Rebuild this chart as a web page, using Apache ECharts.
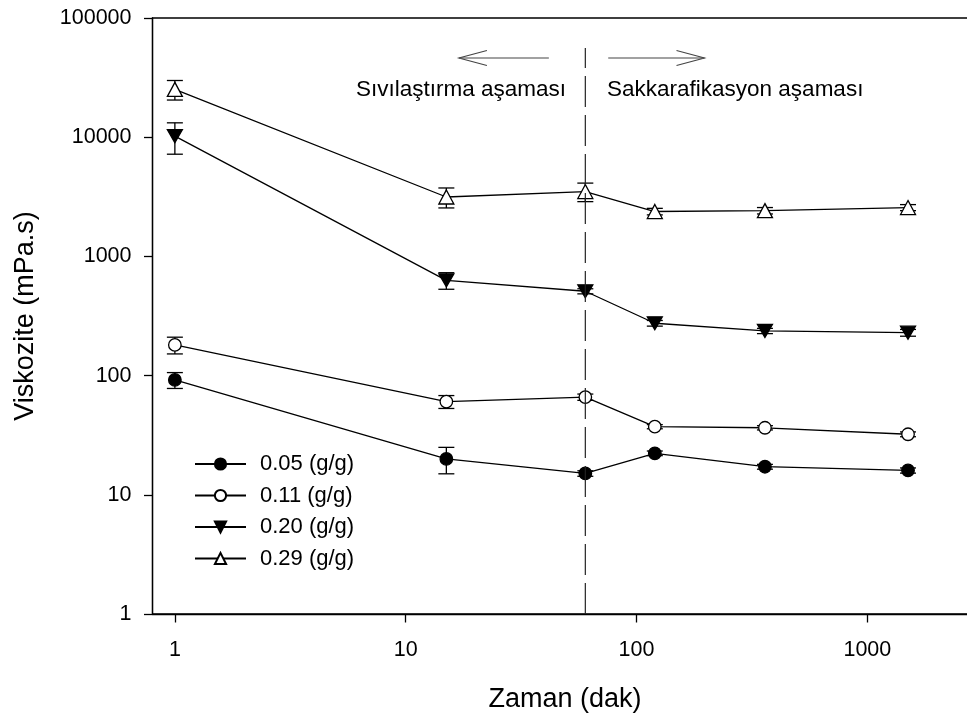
<!DOCTYPE html>
<html><head><meta charset="utf-8">
<script src="https://cdn.jsdelivr.net/npm/echarts@6/dist/echarts.min.js"></script>
<style>html,body{margin:0;padding:0;background:#fff}#c{width:967px;height:719px}</style>
</head><body><div id="c"></div><script>
// ---- data ----
const times = [1, 15, 60, 120, 360, 1500];
const seriesNames = ['0.05 (g/g)', '0.11 (g/g)', '0.20 (g/g)', '0.29 (g/g)'];
const v005 = [92, 20, 15.1, 22.3, 17.2, 16.0];
const e005 = [14, 5, 0.8, 1, 0.8, 0.8];
const v011 = [181, 60.5, 66, 37.3, 36.5, 32.2];
const e011 = [29, 7.5, 4, 1.5, 1.5, 1.5];
const v020 = [10200, 630, 510, 275, 237, 229];
const e020 = [3000, 100, 25, 15, 12, 15];
const v029 = [25200, 3150, 3500, 2380, 2420, 2570];
const e029 = [4700, 600, 620, 150, 150, 150];
const xTicks = [1, 10, 100, 1000];
const yTicks = [1, 10, 100, 1000, 10000, 100000];
const phaseBoundary = 60;
const phaseLabels = ['Sıvılaştırma aşaması', 'Sakkarafikasyon aşaması'];

// ---- chart ----
const FONT = 'Liberation Sans, Arial, sans-serif';
const chart = echarts.init(document.getElementById('c'), null, {renderer: 'canvas'});

const values = [v005, v011, v020, v029];
const errors = [e005, e011, e020, e029];
const symbols = [
  {symbol: 'circle', size: 12.5, fill: '#000', rot: 0},
  {symbol: 'circle', size: 12.5, fill: '#fff', rot: 0},
  {symbol: 'triangle', size: [15, 13], fill: '#000', rot: 180},
  {symbol: 'triangle', size: [15, 14], fill: '#fff', rot: 0}
];

function errRender(params, api) {
  const x = api.value(0), v = api.value(1), e = api.value(2);
  const top = api.coord([x, v + e]);
  const bot = api.coord([x, Math.max(v - e, 1e-6)]);
  const hw = 8;
  const style = {stroke: '#000', lineWidth: 1.3};
  return {type: 'group', children: [
    {type: 'line', shape: {x1: top[0], y1: top[1], x2: bot[0], y2: bot[1]}, style: style},
    {type: 'line', shape: {x1: top[0] - hw, y1: top[1], x2: top[0] + hw, y2: top[1]}, style: style},
    {type: 'line', shape: {x1: bot[0] - hw, y1: bot[1], x2: bot[0] + hw, y2: bot[1]}, style: style}
  ]};
}

const series = [];
values.forEach((vals, k) => {
  series.push({
    type: 'custom', name: 'err' + k, renderItem: errRender, z: 2, silent: true,
    encode: {x: 0, y: 1},
    data: times.map((t, i) => [t, vals[i], errors[k][i]])
  });
});
values.forEach((vals, k) => {
  const s = symbols[k];
  series.push({
    type: 'line', name: seriesNames[k], z: 3,
    data: times.map((t, i) => [t, vals[i]]),
    symbol: s.symbol, symbolSize: s.size, symbolRotate: s.rot, showAllSymbol: true,
    itemStyle: {color: s.fill, borderColor: '#000', borderWidth: 1.3},
    lineStyle: {color: '#000', width: 1.3},
    emphasis: {disabled: true}
  });
});
// phase boundary dashed line
series.push({
  type: 'line', name: 'boundary', z: 4, silent: true, symbol: 'none',
  data: [[phaseBoundary, 1], [phaseBoundary, 56000]],
  lineStyle: {color: '#222', width: 1.2, type: [31, 8]}
});
// arrows: [xStart, xEnd, y] head at xEnd
series.push({
  type: 'custom', name: 'arrows', z: 4, silent: true, encode: {x: 0, y: 2},
  data: [[41.7, 17.0, 46200], [75.4, 197, 46200]],
  renderItem: function (params, api) {
    const a = api.coord([api.value(0), api.value(2)]);
    const b = api.coord([api.value(1), api.value(2)]);
    const dir = b[0] > a[0] ? 1 : -1;
    const hl = 28, hw = 7.5;
    const st = {stroke: '#444', lineWidth: 1.1, fill: null};
    return {type: 'group', children: [
      {type: 'line', shape: {x1: a[0], y1: a[1], x2: b[0], y2: b[1]}, style: st},
      {type: 'polyline', shape: {points: [[b[0] - dir * hl, b[1] - hw], [b[0], b[1]], [b[0] - dir * hl, b[1] + hw]]}, style: st}
    ]};
  }
});
// phase labels: [x, y, labelIndex]
series.push({
  type: 'custom', name: 'phaseText', z: 4, silent: true, encode: {x: 0, y: 1},
  data: [[49.5, 24900, 0], [74.5, 24900, 1]],
  renderItem: function (params, api) {
    const p = api.coord([api.value(0), api.value(1)]);
    const idx = api.value(2);
    return {type: 'text', x: p[0], y: p[1], style: {
      text: phaseLabels[idx], fontSize: 22.5, fontFamily: FONT, fill: '#000',
      align: idx === 0 ? 'right' : 'left', verticalAlign: 'middle'
    }};
  }
});

const axisLineStyle = {color: '#000', width: 1.3};
chart.setOption({
  animation: false,
  backgroundColor: '#fff',
  grid: {left: 152.5, top: 18, width: 825, height: 596, containLabel: false, outerBoundsMode: 'none',
         show: true, borderColor: '#000', borderWidth: 1.3, backgroundColor: 'transparent'},
  legend: {
    orient: 'vertical', left: 189, top: 448, itemWidth: 51, itemHeight: 14, itemGap: 9.5,
    data: seriesNames, selectedMode: false,
    textStyle: {fontSize: 22, color: '#000', fontFamily: FONT, padding: [0, 0, 0, 9]}
  },
  xAxis: {
    type: 'log', logBase: 10, min: 0.8, max: 3000,
    name: 'Zaman (dak)', nameLocation: 'middle', nameGap: 72,
    nameTextStyle: {fontSize: 27, color: '#000', fontFamily: FONT},
    axisLine: {show: true, lineStyle: axisLineStyle},
    axisTick: {show: true, inside: false, length: 8.5, lineStyle: axisLineStyle, customValues: xTicks},
    axisLabel: {show: true, customValues: xTicks, fontSize: 21.5, color: '#000', fontFamily: FONT, margin: 25,
                formatter: v => String(Math.round(v))},
    splitLine: {show: false}, minorTick: {show: false}
  },
  yAxis: {
    type: 'log', logBase: 10, min: 1, max: 100000,
    name: 'Viskozite (mPa.s)', nameLocation: 'middle', nameGap: 113,
    nameTextStyle: {fontSize: 27, color: '#000', fontFamily: FONT},
    axisLine: {show: true, lineStyle: axisLineStyle},
    axisTick: {show: true, inside: false, length: 8.5, lineStyle: axisLineStyle, customValues: yTicks},
    axisLabel: {show: true, customValues: yTicks, fontSize: 21.5, color: '#000', fontFamily: FONT, margin: 21,
                formatter: v => String(Math.round(v))},
    splitLine: {show: false}, minorTick: {show: false}
  },
  series: series
});
</script></body></html>
